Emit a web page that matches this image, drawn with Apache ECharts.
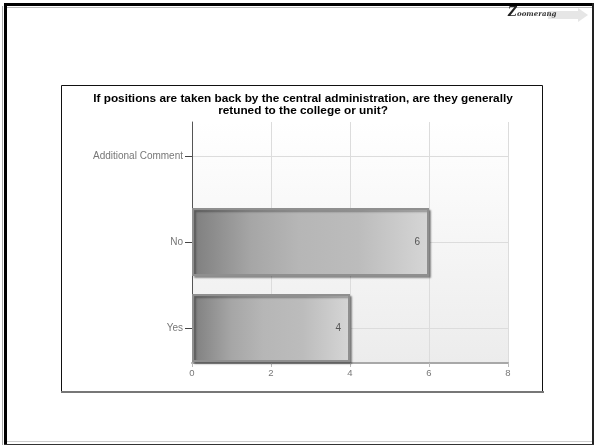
<!DOCTYPE html>
<html>
<head>
<meta charset="utf-8">
<script src="https://cdn.jsdelivr.net/npm/echarts@6/dist/echarts.min.js"></script>
<style>
html,body{margin:0;padding:0;background:#fff;}
#c{width:594px;height:445px;}
</style>
</head>
<body>
<div id="c"></div>
<script>
var titleText = 'If positions are taken back by the central administration, are they generally\nretuned to the college or unit?';
var categories = ['Additional Comment', 'No', 'Yes'];
var counts = [0, 6, 4];
var xTicks = [0, 2, 4, 6, 8];

var FONT = 'Arial, "Liberation Sans", sans-serif';
var chart = echarts.init(document.getElementById('c'));

var barData = counts.map(function (v) {
  return v > 0 ? { value: v } : { value: v, label: { show: false }, itemStyle: { borderWidth: 0, shadowBlur: 0, shadowOffsetX: 0, shadowOffsetY: 0 } };
});

var barGradient = new echarts.graphic.LinearGradient(0, 0, 1, 0, [
  { offset: 0, color: '#7e7e7e' },
  { offset: 0.25, color: '#a6a6a6' },
  { offset: 0.45, color: '#b6b6b6' },
  { offset: 0.7, color: '#bcbcbc' },
  { offset: 1, color: '#d6d6d6' }
]);

var option = {
  animation: false,
  backgroundColor: '#fff',
  textStyle: { fontFamily: FONT },
  title: {
    text: titleText,
    left: 298,
    textAlign: 'center',
    top: 88,
    textStyle: { fontFamily: FONT, fontSize: 11.8, fontWeight: 'bold', color: '#000', lineHeight: 12 }
  },
  graphic: [
    // outer frame
    { type: 'rect', z: -10, shape: { x: 4, y: 3, width: 590, height: 3 }, style: { fill: '#000' } },
    { type: 'rect', z: -10, shape: { x: 4, y: 3, width: 3, height: 442 }, style: { fill: '#000' } },
    { type: 'rect', z: -10, shape: { x: 592, y: 3, width: 2, height: 442 }, style: { fill: '#222' } },
    { type: 'rect', z: -10, shape: { x: 2, y: 6, width: 1, height: 439 }, style: { fill: '#aaa' } },
    { type: 'rect', z: -10, shape: { x: 7, y: 7, width: 585, height: 1 }, style: { fill: '#bbb' } },
    { type: 'rect', z: -10, shape: { x: 7, y: 441, width: 585, height: 1 }, style: { fill: '#ccc' } },
    { type: 'rect', z: -10, shape: { x: 4, y: 444, width: 590, height: 1 }, style: { fill: '#333' } },
    // inner box
    { type: 'rect', z: -9, shape: { x: 61.5, y: 85.5, width: 481, height: 306 }, style: { fill: '#fff', stroke: '#111', lineWidth: 1 } },
    { type: 'rect', z: -8, shape: { x: 61, y: 391, width: 483, height: 2 }, style: { fill: '#777' } },
    // logo
    { type: 'polygon', z: -5, shape: { points: [[548, 11], [578, 11], [578, 8], [588, 15], [578, 22], [578, 19], [548, 19]] }, style: { fill: '#e6e6e6' } },
    { type: 'text', z: -4, left: 508, top: 7, style: { text: 'Z', font: 'italic bold 12px "DejaVu Serif", serif', fill: '#222' } },
    { type: 'text', z: -4, left: 517, top: 11, style: { text: 'oomerang', font: 'italic bold 7px "DejaVu Serif", serif', fill: '#333' } }
  ],
  grid: [
    {
      left: 192, right: 86, top: 122, bottom: 82,
      show: true,
      borderWidth: 0,
      backgroundColor: new echarts.graphic.LinearGradient(0, 0, 0, 1, [
        { offset: 0, color: '#ffffff' },
        { offset: 1, color: '#ececec' }
      ])
    },
    { left: 192, right: 86, top: 113, bottom: 74 }
  ],
  xAxis: [
    {
      gridIndex: 0, type: 'value', min: xTicks[0], max: xTicks[xTicks.length - 1], interval: 2,
      axisLine: { show: true, lineStyle: { color: '#a8a8a8', width: 2 } },
      axisTick: { show: true, length: 4, lineStyle: { color: '#bbb' } },
      axisLabel: { color: '#777', fontSize: 9.5, margin: 5, fontFamily: FONT },
      splitLine: { show: true, lineStyle: { color: '#dcdcdc', width: 1 } }
    },
    {
      gridIndex: 1, type: 'value', min: xTicks[0], max: xTicks[xTicks.length - 1], show: false
    }
  ],
  yAxis: [
    {
      gridIndex: 0, type: 'value', min: 0, max: 1,
      axisLine: { show: true, onZero: false, lineStyle: { color: '#555', width: 1 } },
      axisTick: { show: false }, axisLabel: { show: false }, splitLine: { show: false }
    },
    {
      gridIndex: 1, type: 'category', data: categories, inverse: true,
      axisLine: { show: false },
      axisTick: { show: true, alignWithLabel: true, length: 7, lineStyle: { color: '#444' } },
      axisLabel: { color: '#777', fontSize: 10, margin: 9, fontFamily: FONT },
      splitLine: { show: true, alignWithLabel: true, lineStyle: { color: '#dcdcdc', width: 1 } }
    }
  ],
  series: [
    {
      type: 'bar',
      xAxisIndex: 1, yAxisIndex: 1,
      data: barData,
      barWidth: 68,
      itemStyle: {
        color: barGradient,
        borderColor: '#8f8f8f',
        borderWidth: 2,
        shadowColor: 'rgba(0,0,0,0.35)',
        shadowBlur: 2,
        shadowOffsetX: 2,
        shadowOffsetY: 2
      },
      label: {
        show: true,
        position: 'insideRight',
        distance: 9,
        color: '#555',
        fontSize: 10,
        fontFamily: FONT
      }
    }
  ]
};
chart.setOption(option);
</script>
</body>
</html>
